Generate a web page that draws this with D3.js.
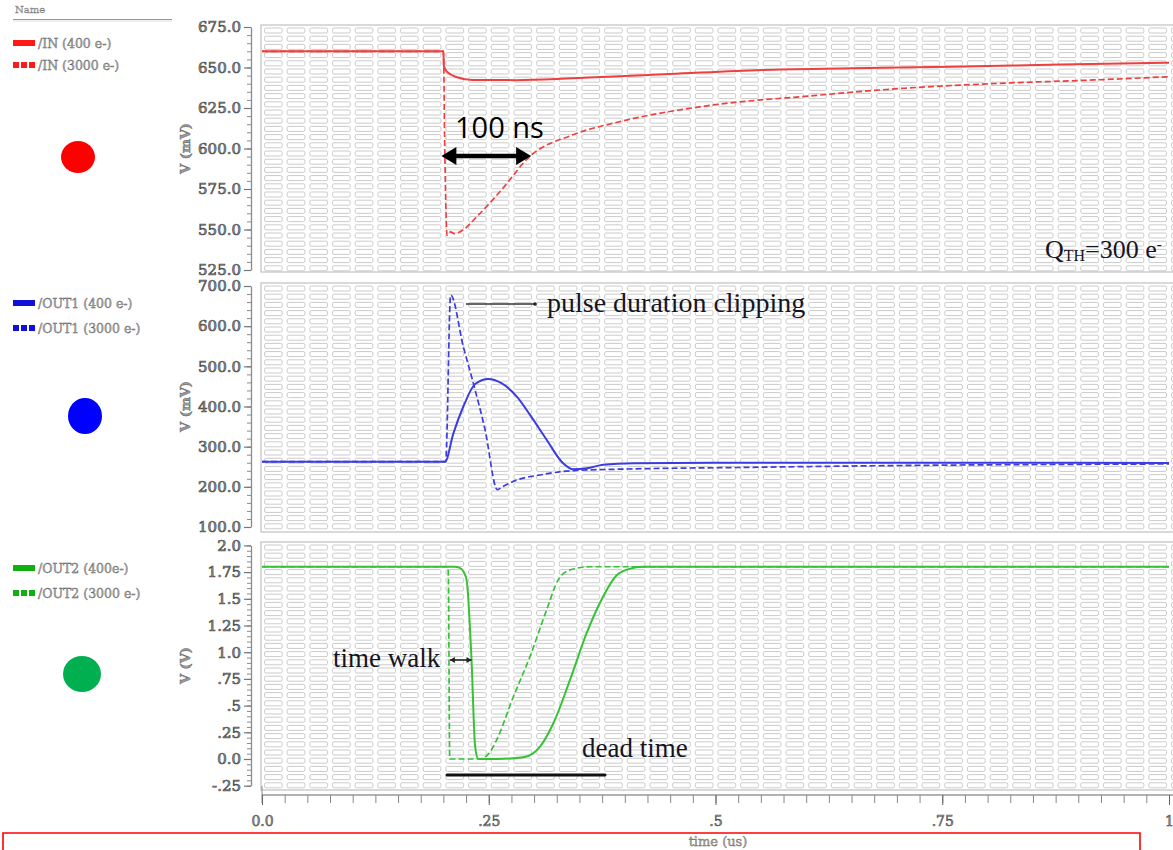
<!DOCTYPE html>
<html>
<head>
<meta charset="utf-8">
<script src="https://cdn.jsdelivr.net/npm/d3@7"></script>
<style>
  body { margin: 0; background: #fff; }
  svg { display: block; }
</style>
</head>
<body>
<svg id="chart" width="1173" height="850"></svg>
<script>
// ---- Transient simulation waveforms: [time (us), value] ----
// Preamp input node, mV
const in400 = [[0,660],[0.2,660],[0.2005,651],[0.204,647.4],[0.215,644],[0.232,642.3],[0.28,642.2],[0.342,643.3],[0.45,646],[0.551,648.5],[0.65,649.5],[0.76,650.5],[0.88,651.8],[1.0,653]];
const in3000 = [[0,660],[0.2,660],[0.2015,600],[0.204,546.5],[0.208,548.5],[0.212,547.5],[0.2216,549.7],[0.237,558],[0.264,574.4],[0.295,595],[0.342,608.3],[0.394,616.5],[0.498,626.9],[0.603,632.4],[0.708,637.2],[0.812,640.2],[0.917,642.3],[1.0,644.3]];
// Shaper output, mV
const out1_400 = [[0,262.6],[0.2018,262.6],[0.211,333],[0.222,400],[0.235,456],[0.2495,468.5],[0.264,458],[0.281,424.5],[0.2955,379],[0.314,316.6],[0.332,258.6],[0.343,243.6],[0.358,246],[0.376,255],[0.41,259],[0.5,260],[0.7,260],[1.0,259.5]];
const out1_3000 = [[0,262.6],[0.2025,262.6],[0.208,677.6],[0.222,549],[0.233,457.8],[0.246,341.5],[0.2595,193],[0.265,200],[0.281,217],[0.3065,229.5],[0.3396,240],[0.387,243.6],[0.442,246],[0.516,248],[0.7,253],[1.0,257]];
// Discriminator output, V
const out2_400 = [[0,1.8],[0.212,1.8],[0.218,1.79],[0.2225,1.75],[0.2257,1.67],[0.231,0.93],[0.235,0.115],[0.2385,0.0],[0.26,0.0],[0.288,0.016],[0.2985,0.05],[0.3065,0.115],[0.321,0.33],[0.3396,0.74],[0.358,1.18],[0.376,1.52],[0.391,1.72],[0.405,1.78],[0.42,1.8],[1.0,1.8]];
const out2_3000 = [[0,1.8],[0.205,1.8],[0.2055,1.7],[0.207,0.0],[0.24,0.0],[0.25,0.05],[0.2588,0.18],[0.277,0.58],[0.2955,0.96],[0.314,1.4],[0.3267,1.68],[0.3396,1.77],[0.3616,1.8],[1.0,1.8]];

// ---- Axis ticks and labels ----
const inTicks = [525, 550, 575, 600, 625, 650, 675];
const inTickLabels = ["525.0", "550.0", "575.0", "600.0", "625.0", "650.0", "675.0"];
const out1Ticks = [100, 200, 300, 400, 500, 600, 700];
const out1TickLabels = ["100.0", "200.0", "300.0", "400.0", "500.0", "600.0", "700.0"];
const out2Ticks = [-0.25, 0, 0.25, 0.5, 0.75, 1.0, 1.25, 1.5, 1.75, 2.0];
const out2TickLabels = ["-.25", "0.0", ".25", ".5", ".75", "1.0", "1.25", "1.5", "1.75", "2.0"];
const timeTicks = [0, 0.25, 0.5, 0.75, 1.0];
const timeTickLabels = ["0.0", ".25", ".5", ".75", "1"];

// ---- Legend entries ----
const inNames = ["/IN (400 e-)", "/IN (3000 e-)"];
const out1Names = ["/OUT1 (400 e-)", "/OUT1 (3000 e-)"];
const out2Names = ["/OUT2 (400e-)", "/OUT2 (3000 e-)"];

const svg = d3.select("#chart");
const W = 1173;

const x = d3.scaleLinear().domain([0, 1]).range([262, 1169]);

const labelFont = "'DejaVu Serif', 'Liberation Serif', serif";
const noteFont = "'Liberation Serif', 'Times New Roman', serif";

const panels = [
  { frame: [25, 272], range: [270, 27], domain: [525, 675], minorStep: 5,
    ticks: inTicks, labels: inTickLabels, title: "V (mV)",
    series: [in400, in3000], names: inNames,
    lineColor: "#ee4040", swatch: "#ff1a1a", legendY: [43, 65],
    dot: { cx: 78, cy: 157, rx: 17, ry: 16, fill: "#ff0000" } },
  { frame: [283, 532], range: [527, 286], domain: [100, 700], minorStep: 20,
    ticks: out1Ticks, labels: out1TickLabels, title: "V (mV)",
    series: [out1_400, out1_3000], names: out1Names,
    lineColor: "#3c3ce0", swatch: "#1010d8", legendY: [303, 328],
    dot: { cx: 85, cy: 416, rx: 17, ry: 18, fill: "#0000ff" } },
  { frame: [542, 790], range: [785.7, 545.4], domain: [-0.25, 2.0], minorStep: 0.05,
    ticks: out2Ticks, labels: out2TickLabels, title: "V (V)",
    series: [out2_400, out2_3000], names: out2Names,
    lineColor: "#36c236", swatch: "#10b010", legendY: [568, 593],
    dot: { cx: 82, cy: 674, rx: 19, ry: 18, fill: "#00b050" } }
];

// "Name" header of the legend column
svg.append("text").attr("x", 15).attr("y", 13)
  .attr("font-family", labelFont).attr("font-size", 10).attr("fill", "#aaa")
  .attr("stroke", "#777").attr("stroke-width", 0.3)
  .text("Name");
svg.append("line").attr("x1", 13).attr("x2", 172).attr("y1", 19.5).attr("y2", 19.5)
  .attr("stroke", "#999").attr("stroke-width", 1.2);
svg.append("line").attr("x1", 13).attr("x2", 172).attr("y1", 21).attr("y2", 21)
  .attr("stroke", "#ddd").attr("stroke-width", 1);

panels.forEach((p, pi) => {
  const y = d3.scaleLinear().domain(p.domain).range(p.range);
  const g = svg.append("g");
  const fTop = p.frame[0], fBot = p.frame[1];

  // plot frame
  g.append("rect").attr("x", 261).attr("y", fTop).attr("width", W - 261 + 5).attr("height", fBot - fTop)
    .attr("fill", "#fff").attr("stroke", "#c0c0c0").attr("stroke-width", 1.2);

  // cell grid
  const cols = d3.range(0, 42).map(k => k * 0.025);
  const grid = g.append("g").attr("fill", "none").attr("stroke", "#c2c2c2").attr("stroke-width", 0.85);
  const rows = d3.range(fTop + 3, fBot - 6, 8.2);
  rows.forEach(ry => {
    cols.forEach(c => {
      const x0 = x(c), x1 = x(c + 0.025);
      grid.append("rect").attr("x", x0 + 2.5).attr("y", ry).attr("width", x1 - x0 - 5).attr("height", 5)
        .attr("rx", 1.5);
    });
  });

  // clip for traces
  const clipId = "clip" + pi;
  svg.append("clipPath").attr("id", clipId).append("rect")
    .attr("x", 261).attr("y", fTop).attr("width", W - 261).attr("height", fBot - fTop);

  const line = d3.line().x(d => x(d[0])).y(d => y(d[1])).curve(d3.curveMonotoneX);
  const traces = g.append("g").attr("clip-path", `url(#${clipId})`);
  p.series.forEach((s, si) => {
    traces.append("path").datum(s).attr("d", line)
      .attr("fill", "none").attr("stroke", p.lineColor)
      .attr("stroke-width", si === 0 ? 2 : 1.7)
      .attr("stroke-dasharray", si === 0 ? null : "6,3")
      .attr("stroke-linejoin", "round");
  });

  // y axis: minor ticks then major ticks with labels
  const minorVals = d3.range(p.domain[0], p.domain[1] + p.minorStep / 2, p.minorStep);
  const minorAxis = d3.axisLeft(y).tickValues(minorVals).tickSize(4).tickSizeOuter(0).tickFormat("");
  const ma = g.append("g").attr("transform", "translate(251,0)").call(minorAxis);
  ma.selectAll("line").attr("stroke", "#8a8a8a");
  ma.select(".domain").attr("stroke", "#8a8a8a").attr("stroke-width", 1.3);

  const majorAxis = d3.axisLeft(y).tickValues(p.ticks).tickSize(7).tickSizeOuter(0).tickPadding(3)
    .tickFormat((d, i) => p.labels[i]);
  const ax = g.append("g").attr("transform", "translate(251,0)").call(majorAxis);
  ax.select(".domain").remove();
  ax.selectAll("line").attr("stroke", "#777").attr("stroke-width", 1.2);
  ax.selectAll("text").attr("font-family", labelFont).attr("font-size", 15)
    .attr("fill", "#999").attr("stroke", "#505050").attr("stroke-width", 0.7);

  // axis title
  const midY = (p.range[0] + p.range[1]) / 2;
  g.append("text").attr("transform", `translate(190,${midY}) rotate(-90)`)
    .attr("text-anchor", "middle").attr("font-family", labelFont).attr("font-size", 13)
    .attr("font-weight", "bold").attr("fill", "#999").attr("stroke", "#555").attr("stroke-width", 0.4)
    .text(p.title);

  // legend entries
  p.names.forEach((n, i) => {
    const ly = p.legendY[i];
    if (i === 0) {
      g.append("rect").attr("x", 13).attr("y", ly - 3).attr("width", 22).attr("height", 6).attr("fill", p.swatch);
    } else {
      [0, 1, 2].forEach(k => g.append("rect").attr("x", 13 + k * 8).attr("y", ly - 3)
        .attr("width", 6).attr("height", 6).attr("fill", p.swatch));
    }
    g.append("text").attr("x", 38).attr("y", ly + 4.5)
      .attr("font-family", labelFont).attr("font-size", 12.5)
      .attr("fill", "#aaa").attr("stroke", "#666").attr("stroke-width", 0.4)
      .text(n);
  });

  // colour marker
  g.append("ellipse").attr("cx", p.dot.cx).attr("cy", p.dot.cy).attr("rx", p.dot.rx).attr("ry", p.dot.ry)
    .attr("fill", p.dot.fill);

  p.yScale = y;
});

// ---- time axis ----
const xMinor = d3.range(0, 41).map(k => k * 0.025);
const xAxisMinor = d3.axisBottom(x).tickValues(xMinor).tickSize(8).tickSizeOuter(0).tickFormat("");
const xa = svg.append("g").attr("transform", "translate(0,795)").call(xAxisMinor);
xa.select(".domain").attr("stroke", "#999").attr("stroke-width", 1.3).attr("d", `M262,0H${W}`);
xa.selectAll("line").attr("stroke", "#888");
svg.append("line").attr("x1", 262).attr("x2", 262).attr("y1", 786).attr("y2", 803).attr("stroke", "#888");
const xAxisMajor = d3.axisBottom(x).tickValues(timeTicks).tickSize(10).tickSizeOuter(0).tickPadding(11)
  .tickFormat((d, i) => timeTickLabels[i]);
const xb = svg.append("g").attr("transform", "translate(0,795)").call(xAxisMajor);
xb.select(".domain").remove();
xb.selectAll("line").attr("stroke", "#666");
xb.selectAll("text").attr("font-family", labelFont).attr("font-size", 14)
  .attr("fill", "#999").attr("stroke", "#505050").attr("stroke-width", 0.6);

svg.append("text").attr("x", 718).attr("y", 846).attr("text-anchor", "middle")
  .attr("font-family", labelFont).attr("font-size", 13)
  .attr("fill", "#aaa").attr("stroke", "#666").attr("stroke-width", 0.4)
  .text("time (us)");

// highlight box along the bottom
svg.append("path").attr("d", "M3,852V833H1140V852")
  .attr("fill", "none").attr("stroke", "#ff0000").attr("stroke-width", 1.6);

// ---- annotations ----
const ink = "#15151f";

// 100 ns time constant marker
const ax0 = x(0.2) - 2, ax1 = x(0.3) - 3, ay = 156;
svg.append("line").attr("x1", ax0 + 10).attr("x2", ax1 - 10).attr("y1", ay).attr("y2", ay)
  .attr("stroke", "#000").attr("stroke-width", 4.5);
svg.append("path").attr("d", `M${ax0},${ay}L${ax0 + 15},${ay - 9}L${ax0 + 15},${ay + 9}Z`).attr("fill", "#000");
svg.append("path").attr("d", `M${ax1},${ay}L${ax1 - 15},${ay - 9}L${ax1 - 15},${ay + 9}Z`).attr("fill", "#000");
svg.append("text").attr("x", 455).attr("y", 138)
  .attr("font-family", "'Open Sans', sans-serif").attr("font-size", 29).attr("fill", "#000")
  .text("100 ns");

// threshold
const qt = svg.append("text").attr("x", 1045).attr("y", 258)
  .attr("font-family", noteFont).attr("font-size", 26).attr("fill", ink);
qt.append("tspan").text("Q");
qt.append("tspan").attr("font-size", 16).attr("dy", 3).text("TH");
qt.append("tspan").attr("dy", -3).text("=300 e");
qt.append("tspan").attr("font-size", 15).attr("dy", -9).text("-");

// pulse duration clipping
svg.append("line").attr("x1", 466).attr("x2", 535).attr("y1", 304).attr("y2", 304)
  .attr("stroke", "#333").attr("stroke-width", 1.6);
svg.append("circle").attr("cx", 535).attr("cy", 304).attr("r", 1.8).attr("fill", "#222");
svg.append("text").attr("x", 547).attr("y", 312)
  .attr("font-family", noteFont).attr("font-size", 28).attr("fill", ink)
  .text("pulse duration clipping");

// time walk
const tw0 = x(0.2055) + 1.5, tw1 = x(0.231), twy = 660;
svg.append("line").attr("x1", tw0).attr("x2", tw1).attr("y1", twy).attr("y2", twy)
  .attr("stroke", "#222").attr("stroke-width", 1.6);
svg.append("path").attr("d", `M${tw0},${twy}L${tw0 + 5},${twy - 3}L${tw0 + 5},${twy + 3}Z`).attr("fill", "#222");
svg.append("path").attr("d", `M${tw1},${twy}L${tw1 - 5},${twy - 3}L${tw1 - 5},${twy + 3}Z`).attr("fill", "#222");
svg.append("text").attr("x", 333).attr("y", 667)
  .attr("font-family", noteFont).attr("font-size", 27).attr("fill", ink)
  .text("time walk");

// dead time
svg.append("line").attr("x1", 447).attr("x2", 605).attr("y1", 775).attr("y2", 775)
  .attr("stroke", "#111").attr("stroke-width", 3).attr("stroke-linecap", "round");
svg.append("text").attr("x", 582).attr("y", 757)
  .attr("font-family", noteFont).attr("font-size", 27).attr("fill", ink)
  .text("dead time");
</script>
</body>
</html>
